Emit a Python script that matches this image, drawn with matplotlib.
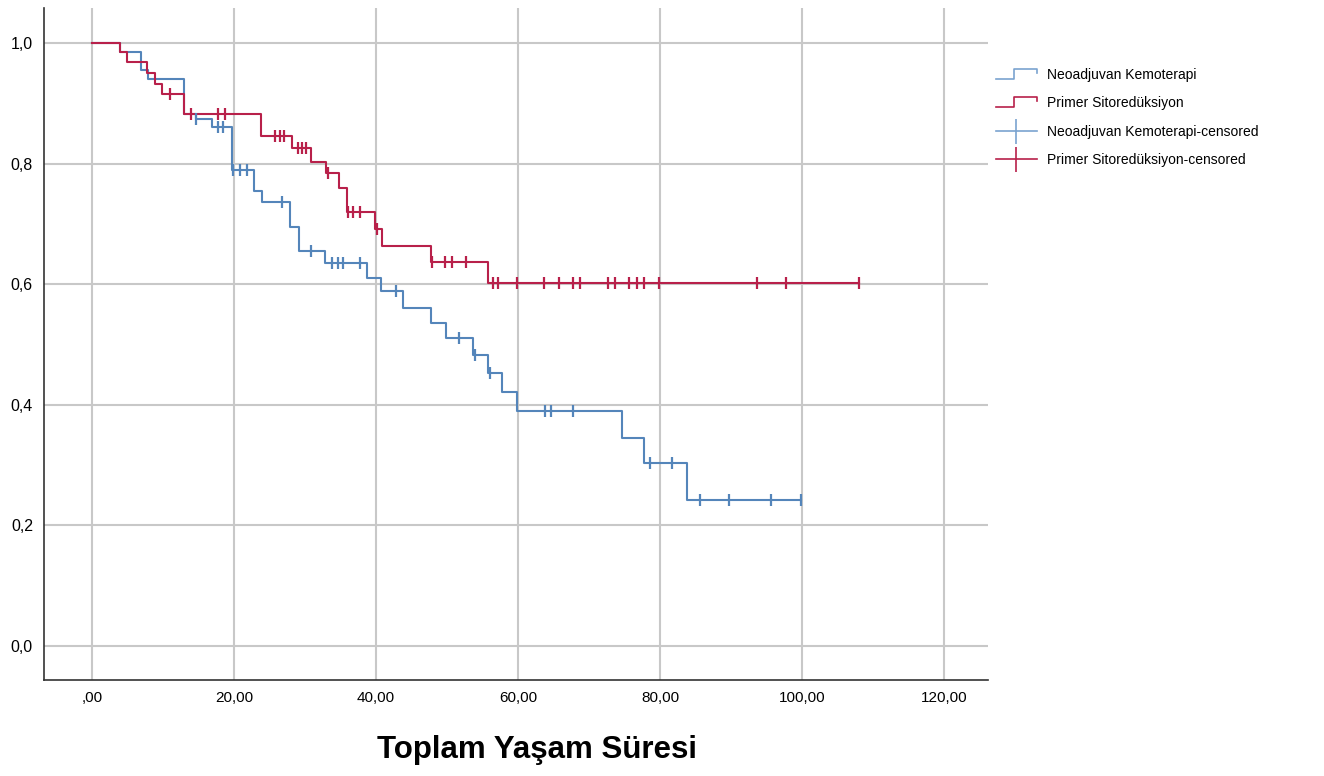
import numpy as np
import matplotlib
matplotlib.use('Agg')
import matplotlib.pyplot as plt
from matplotlib.lines import Line2D
from matplotlib.legend_handler import HandlerBase

plt.rcParams['font.family'] = ['Liberation Sans', 'DejaVu Sans']

# Kaplan-Meier steps (time where the drop happens, survival after drop)
neo_times = [0, 3.9, 6.9, 7.9, 12.9, 14.7, 16.9, 19.7, 22.8, 23.9, 27.9, 29.1, 32.8,
             38.8, 40.7, 43.8, 47.8, 49.9, 53.7, 55.8, 57.8, 59.8, 74.7, 77.7, 83.8]
neo_surv = [1.0, 0.985, 0.955, 0.940, 0.882, 0.874, 0.860, 0.790, 0.755, 0.737, 0.695,
            0.655, 0.635, 0.611, 0.589, 0.561, 0.536, 0.510, 0.482, 0.453, 0.421, 0.389,
            0.345, 0.303, 0.2425]
neo_censored = [14.7, 17.8, 18.5, 19.9, 20.8, 21.8, 26.8, 30.8, 33.8, 34.6, 35.4, 37.7,
                42.8, 51.7, 53.9, 56.0, 63.8, 64.6, 67.8, 78.6, 81.7, 85.7, 89.7, 95.7, 99.8]

prim_times = [0, 3.9, 4.9, 7.7, 8.9, 9.9, 12.9, 23.8, 28.1, 30.8, 33.0, 34.8, 35.9,
              39.9, 40.9, 47.8, 55.8]
prim_surv = [1.0, 0.985, 0.968, 0.951, 0.932, 0.915, 0.882, 0.845, 0.825, 0.803, 0.785,
             0.760, 0.719, 0.691, 0.663, 0.636, 0.6025]
prim_censored = [11.0, 13.9, 17.8, 18.7, 25.8, 26.5, 27.0, 29.0, 29.6, 30.2, 33.2,
                 36.0, 36.8, 37.7, 40.1, 47.9, 49.7, 50.7, 52.7, 56.5, 57.2, 59.8, 63.7,
                 65.8, 67.8, 68.7, 72.7, 73.7, 75.7, 76.8, 77.7, 79.8, 93.7, 97.7, 108.0]

x_ticks = [0, 20, 40, 60, 80, 100, 120]
x_tick_labels = [',00', '20,00', '40,00', '60,00', '80,00', '100,00', '120,00']
y_ticks = [0.0, 0.2, 0.4, 0.6, 0.8, 1.0]
y_tick_labels = ['0,0', '0,2', '0,4', '0,6', '0,8', '1,0']

labels = ['Neoadjuvan Kemoterapi', 'Primer Sitoredüksiyon',
          'Neoadjuvan Kemoterapi-censored', 'Primer Sitoredüksiyon-censored']

BLUE = '#5485ba'
RED = '#b8204a'
GRID = '#c8c8c8'


def surv_at(times, surv, t):
    idx = np.searchsorted(np.array(times), np.array(t), side='right') - 1
    return np.array(surv)[idx]


def draw_curve(ax, times, surv, censored, color):
    end = max(censored[-1], times[-1])
    xs = list(times) + [end]
    ys = list(surv) + [surv[-1]]
    ax.step(xs, ys, where='post', color=color, lw=1.5, zorder=3)
    ax.plot(censored, surv_at(times, surv, censored), linestyle='none', marker='|',
            markersize=9, markeredgewidth=1.6, color=color, zorder=4)


class StepHandler(HandlerBase):
    def create_artists(self, legend, orig_handle, xdescent, ydescent, width, height,
                       fontsize, trans):
        lo = -ydescent
        hi = -ydescent + height * 1.0
        xs = np.array([0, 0.45, 0.45, 1.0, 1.0]) * width - xdescent
        ys = [lo, lo, hi, hi, hi - height * 0.4]
        line = Line2D(xs, ys, color=orig_handle.get_color(), lw=1.2, transform=trans)
        return [line]


fig = plt.figure(figsize=(13.24, 7.76), dpi=100)
ax = fig.add_axes([44 / 1324, 1 - 680 / 776, (988 - 44) / 1324, (680 - 8) / 776])

draw_curve(ax, neo_times, neo_surv, neo_censored, BLUE)
draw_curve(ax, prim_times, prim_surv, prim_censored, RED)

ax.set_xlim(-6.76, 126.2)
ax.set_ylim(-0.0565, 1.058)
ax.set_xticks(x_ticks)
ax.set_xticklabels(x_tick_labels, fontsize=11)
ax.set_yticks(y_ticks)
ax.set_yticklabels(y_tick_labels, fontsize=11.5)
ax.tick_params(length=0, pad=8)
ax.tick_params(axis='x', pad=8)
ax.grid(True, color=GRID, lw=1.5, zorder=0)
ax.set_axisbelow(True)
for side in ['top', 'right']:
    ax.spines[side].set_visible(False)
for side in ['left', 'bottom']:
    ax.spines[side].set_color('#333333')
    ax.spines[side].set_linewidth(1.2)

ax.set_xlabel('Toplam Yaşam Süresi', fontsize=22.5, fontweight='bold')
ax.xaxis.set_label_coords(0.522, -0.104)
ax.xaxis.label.set_va('center')

handles = [Line2D([], [], color='#7aa3cf'),
           Line2D([], [], color=RED),
           Line2D([], [], color='#7aa3cf', marker='|', markersize=18, markeredgewidth=1.2, lw=1.2),
           Line2D([], [], color=RED, marker='|', markersize=18, markeredgewidth=1.2, lw=1.2)]
fig.legend(handles, labels, loc='upper left', bbox_to_anchor=(990 / 1324, 1 - 62 / 776),
           frameon=False, fontsize=10, handlelength=3.0, handletextpad=0.7,
           labelspacing=1.05, borderaxespad=0,
           handler_map={handles[0]: StepHandler(), handles[1]: StepHandler()})

fig.savefig('out.png', dpi=100)
